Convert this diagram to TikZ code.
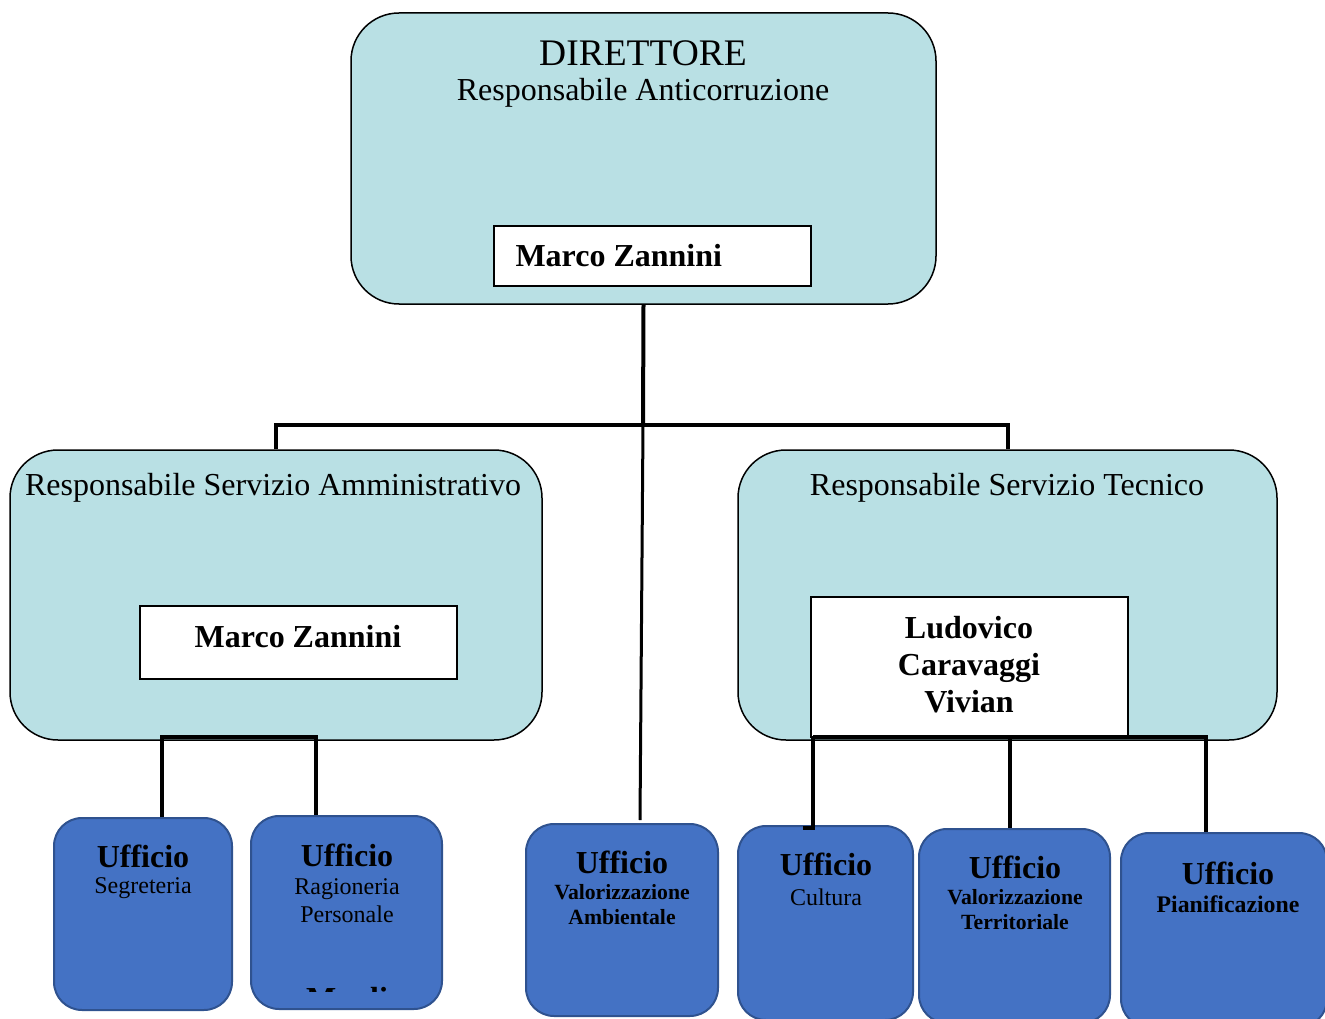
\documentclass[tikz,border=0pt]{standalone}
\usepackage{fontspec}
\setmainfont{Liberation Serif}
\definecolor{lteal}{HTML}{B9E0E4}
\definecolor{ublue}{HTML}{4472C4}
\definecolor{uborder}{HTML}{2F528F}
\begin{document}
\begin{tikzpicture}[x=1pt,y=-1pt,
  big/.style={draw=black, line width=1.5pt, fill=lteal, rounded corners=48pt, inner sep=0pt},
  namebox/.style={draw=black, line width=1.5pt, fill=white, inner sep=0pt},
  office/.style={draw=uborder, line width=2pt, fill=ublue, rounded corners=28pt, inner sep=0pt},
  conn/.style={line width=4pt},
  conn2/.style={line width=3.5pt},
  ttl/.style={font=\fontsize{32}{36}\selectfont},
  nm/.style={font=\bfseries\fontsize{32}{37}\selectfont, align=center},
  uff/.style={font=\bfseries\fontsize{32}{34}\selectfont},
  sub/.style={font=\fontsize{24}{28}\selectfont, align=center},
  subb/.style={font=\bfseries\fontsize{21.7}{25}\selectfont, align=center}]
\useasboundingbox (0,0) rectangle (1325,1019);
\clip (0,0) rectangle (1325,1019);
\coordinate (j1) at (643,425);
\coordinate (ambtop) at (640,820);
\coordinate (la) at (162,737);
\coordinate (lb) at (316,737);
\coordinate (ra) at (813,737);
\coordinate (rb) at (1010,737);
\coordinate (rc) at (1206,737);
% top box
\node[big, minimum width=585pt, minimum height=291pt] (dir) at (643.5,158.5) {};
\node[font=\fontsize{37.5}{40}\selectfont] (dirt) at (643,53) {DIRETTORE};
\node[ttl] (dirs) at (643,93) {Responsabile Anticorruzione};
\node[namebox, minimum width=317pt, minimum height=60pt] (dirn) at (652.5,256) {};
\node[nm, anchor=west] (dirnt) at (512,256) {Marco Zannini};
% middle boxes
\node[big, minimum width=532pt, minimum height=290pt] (amm) at (276,595) {};
\node[ttl] (ammt) at (273,488) {Responsabile Servizio Amministrativo};
\node[namebox, minimum width=317pt, minimum height=73pt] (ammn) at (298.5,642.5) {};
\node[nm] (ammnt) at (298,637) {Marco Zannini};
\node[big, minimum width=539pt, minimum height=290pt] (tec) at (1007.5,595) {};
\node[ttl] (tect) at (1007,488) {Responsabile Servizio Tecnico};
\node[namebox, minimum width=317pt, minimum height=140pt] (tecn) at (969.5,667) {};
\node[nm] (tecnt) at (969,665) {Ludovico\\Caravaggi\\Vivian};
% offices
\node[office, minimum width=178pt, minimum height=192pt] (seg) at (143,914) {};
\node[uff] (segu) at (143,856) {Ufficio};
\node[sub] (segs) at (143,888) {Segreteria};
\node[office, minimum width=191pt, minimum height=193pt] (rag) at (346.5,912.5) {};
\node[uff] (ragu) at (347,855) {Ufficio};
\node[sub] (rags) at (347,901) {Ragioneria\\Personale};
\begin{scope}
\clip (255,984) rectangle (440,991);
\node[uff] (ragm) at (347,999) {Mauli};
\end{scope}
\node[office, minimum width=192pt, minimum height=192pt] (amb) at (622,920) {};
\node[uff] (ambu) at (622,862) {Ufficio};
\node[subb] (ambs) at (622,905) {Valorizzazione\\Ambientale};
\node[office, minimum width=175pt, minimum height=194pt] (cul) at (825.5,923) {};
\node[uff] (culu) at (826,864) {Ufficio};
\node[sub] (culs) at (826,897) {Cultura};
\node[office, minimum width=191pt, minimum height=194pt] (ter) at (1014.5,926) {};
\node[uff] (teru) at (1015,867) {Ufficio};
\node[subb] (ters) at (1015,910) {Valorizzazione\\Territoriale};
\node[office, minimum width=206pt, minimum height=194pt] (pia) at (1224,930) {};
\node[uff] (piau) at (1228,873) {Ufficio};
\node[font=\bfseries\fontsize{23.8}{26}\selectfont] (pias) at (1228,904) {Pianificazione};
% connectors
\draw[conn] (dir.south) -- (j1);
\draw[conn] (amm.north) -- (276,425) -| (tec.north);
\draw[line width=3pt] (j1) -- (ambtop);
\draw[conn2] (seg.north -| la) -- (la) -- (lb) -- (rag.north -| lb);
\draw[conn2] (ra) -- (rc) -- (pia.north -| rc);
\draw[conn2] (ra) -- (813,828) -- (803,828);
\draw[conn2] (rb) -- (ter.north -| rb);
\end{tikzpicture}
\end{document}
